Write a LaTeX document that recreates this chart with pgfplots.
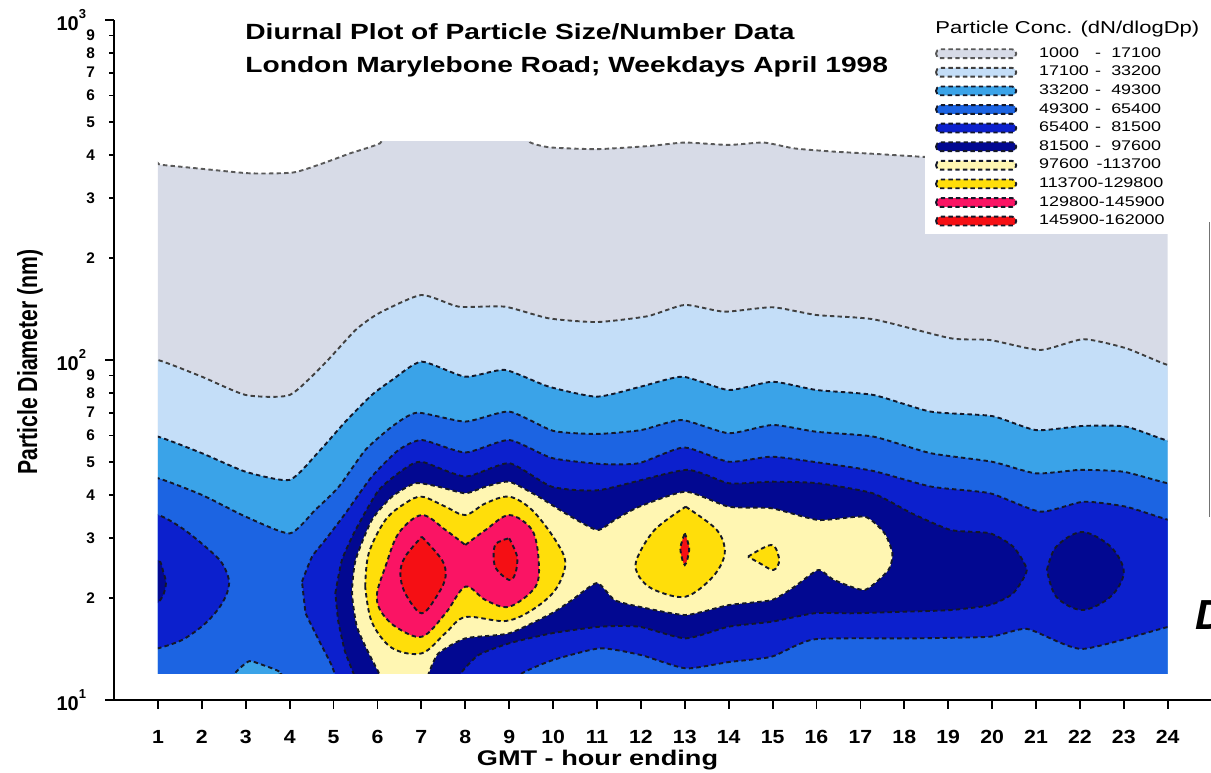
\documentclass[border=0pt]{standalone}
\usepackage{pgfplots}
\pgfplotsset{compat=1.18}
\usepackage{fontspec}
\setmainfont{Liberation Sans}[FakeStretch=1.28]
\newfontfamily\plainsans{Liberation Sans}
\newfontfamily\ticksans{Liberation Sans}[FakeStretch=1.12]
\definecolor{c1}{RGB}{215,219,231}
\definecolor{c2}{RGB}{196,222,248}
\definecolor{c3}{RGB}{58,163,232}
\definecolor{c4}{RGB}{28,100,226}
\definecolor{c5}{RGB}{12,32,205}
\definecolor{c6}{RGB}{2,8,145}
\definecolor{c7}{RGB}{255,246,178}
\definecolor{c8}{RGB}{255,222,10}
\definecolor{c9}{RGB}{250,20,100}
\definecolor{c10}{RGB}{245,15,20}
\definecolor{lc}{RGB}{20,24,40}
\newcommand\YM[1]{10\raisebox{6pt}{\fontsize{6.5}{7}\selectfont#1}}
\newcommand\LE[2]{\makebox[26pt][l]{#1}\makebox[7pt][c]{-}\makebox[28pt][r]{#2}}
\pgfplotsset{reg/.style={line width=0.95pt, dash pattern=on 2.2pt off 1.6pt, draw=lc, smooth, tension=0.35},
  isl/.style={reg, tension=0.55}}
\begin{document}
\begin{tikzpicture}
\useasboundingbox (-57.05pt,-36pt) rectangle (548.45pt,350pt);
% ---------- frame axis with ticks ----------
\begin{axis}[
  at={(0pt,0pt)}, anchor=south west, scale only axis,
  width=548.75pt, height=340pt,
  xmin=0, xmax=25, ymin=10, ymax=1000, ymode=log,
  axis lines*=left,
  axis line style={line width=1.1pt, black},
  tick align=outside,
  tick style={black, line width=0.9pt},
  major tick length=4.5pt,
  xtick={1,2,...,24},
  xticklabels={1,2,3,4,5,6,7,8,9,10,11,12,13,14,15,16,17,18,19,20,21,22,23,24},
  x tick label style={font=\ticksans\bfseries\fontsize{9.5}{10}\selectfont, anchor=north, yshift=-7pt},
  ytick={10,100,1000},
  yticklabels={\YM{1},\YM{2},\YM{3}},
  y tick label style={font=\plainsans\bfseries\fontsize{10}{11}\selectfont, anchor=east, xshift=-6pt},
  extra y ticks={20,30,40,50,60,70,80,90,200,300,400,500,600,700,800,900},
  extra y tick labels={2,3,4,5,6,7,8,9,2,3,4,5,6,7,8,9},
  extra y tick style={major tick length=2.5pt, y tick label style={font=\plainsans\bfseries\fontsize{7.7}{8}\selectfont, xshift=2.5pt}},
  yminorticks=false,
]
\end{axis}
% ---------- data axis (domain 1..24 h, 12..440 nm) ----------
\begin{axis}[
  at={(21.95pt,13.461pt)}, anchor=south west, scale only axis,
  width=504.85pt, height=265.93pt,
  xmin=1, xmax=24, ymin=12, ymax=440, ymode=log,
  hide axis, clip=true,
  legend image code/.code={\draw[#1, sharp plot, rounded corners=2pt] (0pt,-2.2pt) rectangle (40pt,2.2pt); \path[draw=none, fill=none] (0pt,0pt) -- (51.5pt,0pt);},
  legend cell align=left,
  legend style={at={(axis description cs:0.7594,1.1903)}, anchor=north west,
    draw=none, fill=white, inner xsep=5pt, inner ysep=2pt, row sep=0pt,
    font=\fontsize{7}{8}\selectfont,
    nodes={inner xsep=0pt, inner ysep=1.2pt, text height=5.3pt, text depth=1.6pt}},
]
% level 1
\addplot[reg, fill=c1, draw=black!65] coordinates {(0.5,10.5)(0.5,375)(1.05,375)(2,365)(3.1,354)(4.08,356)(4.76,379)(5.37,405)(6.06,434)(6.4,480)(9.2,480)(9.47,437)(9.93,422)(11,417)(12.2,426)(13,436)(14,429)(14.8,436)(15.5,419)(16.4,410)(17.3,404)(18.4,396)(20,386)(22,380)(24.5,375)(24.5,10.5)} -- cycle;
\addlegendentry{\LE{1000}{17100}}
% level 2
\addplot[reg, fill=c2, draw=black!75] coordinates {(0.5,10.5)(0.5,100)(1,100)(2,89.3)(3,78.9)(4,78.9)(4.8,97.8)(5.5,122.5)(6.03,137.2)(7,155.3)(7.85,143.5)(8.9,143.5)(9.9,132.6)(11,129.3)(12.15,134.5)(13,145.2)(13.9,138.7)(15,142.9)(16,135.6)(17.3,131.7)(19.06,115.8)(19.95,114.5)(21.1,107)(22.08,115.1)(23.05,108.3)(24,96.7)(24.5,96.7)(24.5,10.5)} -- cycle;
\addlegendentry{\LE{17100}{33200}}
% level 3
\addplot[reg, fill=c3] coordinates {(0.5,10.5)(0.5,59.5)(1,59.5)(2,53.2)(3,46.9)(4,44.4)(4.66,53.7)(5.27,65.9)(5.87,78.9)(6.33,87.3)(7,98.9)(8,89.3)(8.9,93.5)(9.9,83.5)(11,78)(12,83.5)(12.95,89.3)(14,81.6)(15,86.3)(16,81.6)(17.3,78.9)(18.6,70.5)(20,68.4)(21,62.2)(22.08,64)(23.05,63.7)(24,57.9)(24.5,57.9)(24.5,10.5)} -- cycle;
\addlegendentry{\LE{33200}{49300}}
% level 4
\addplot[reg, fill=c4] coordinates {(0.5,10.5)(0.5,44.9)(1,44.9)(2,40.1)(3,34.6)(4,30.9)(4.58,36.2)(5.12,42.4)(5.72,54.3)(6.33,63.7)(6.9,70)(8,65.9)(9,70.5)(10,61.9)(11,60.6)(12,62.2)(12.93,66.6)(14,60.9)(15,64.4)(16,61.5)(17.3,59.5)(18.6,53.2)(20,50.2)(21,46.4)(22,47.5)(23,46.9)(24,43.4)(24.5,43.4)(24.5,10.5)(3.95,10.5)(3.82,12)(3.29,12.8)(3.07,13.0)(2.76,12)(2.65,10.5)} -- cycle;
\addlegendentry{\LE{49300}{65400}}
% level 5
\addplot[reg, fill=c5] coordinates {(4.28,22.28)(4.51,26.4)(4.81,29.56)(5.27,35.4)(5.87,45.4)(6.48,54.35)(7.01,58.17)(8,53.45)(9,58.17)(9.97,51.5)(11.1,49.44)(11.95,49.7)(12.98,55.3)(14,50.2)(14.98,51.95)(16.04,49.95)(17.28,47.2)(18.62,42.4)(19.95,40.55)(21.1,35.8)(22.08,38.3)(23.05,37.03)(24.03,33.84)(24.5,33.84)(24.5,16.43)(24.03,16.43)(22.05,14.13)(20.8,16.18)(19.95,15.35)(18.17,15.18)(15.95,15.08)(14.98,13.41)(14,12.93)(13.02,12.39)(12,13.56)(11.07,14.19)(10,13.11)(9.3,12)(8.95,10.8)(8.9,10.3)(5.2,10.3)(5.15,10.8)(4.95,12.68)(4.66,15.02)(4.36,17.99)} -- cycle;
\addlegendentry{\LE{65400}{81500}}
\addplot[isl, fill=c5, forget plot] coordinates {(0.5,14.19)(0.5,35)(1,35)(1.55,32)(2.08,28.24)(2.46,25.24)(2.62,22.04)(2.46,19.25)(2.08,16.81)(1.55,15.02)(1,14.19)} -- cycle;
% level 6
\addplot[reg, fill=c6] coordinates {(5.04,20.6)(5.19,25.8)(5.5,31.62)(6.03,41.46)(6.63,48.03)(7.01,50.2)(8,45.4)(9,49.7)(9.97,42.4)(11.07,41.46)(13.02,47.5)(14,43.4)(14.98,43.86)(16.04,43.4)(17.28,40.55)(18.17,35.4)(19.06,31.62)(19.95,30.93)(20.48,28.24)(20.79,24.12)(20.48,20.6)(19.95,19.02)(19.06,18.39)(18,18.18)(16.84,17.99)(15.95,17.99)(14.98,16.99)(14,16.43)(13.02,15.18)(11.96,16.43)(11.07,16.43)(9.97,15.71)(9,14.68)(8.3,13.56)(7.9,12)(7.72,10.8)(7.7,10.3)(5.6,10.3)(5.58,10.8)(5.45,12)(5.25,14.03)(5.1,17.19)} -- cycle;
\addlegendentry{\LE{81500}{97600}}
\addplot[isl, fill=c6, forget plot] coordinates {(21.25,24.12)(21.46,28.24)(22.05,31.2)(22.7,28.24)(23.0,23.79)(22.7,20.13)(22.05,18.39)(21.46,20.13)(21.25,24.12)} -- cycle;
\addplot[isl, fill=c6, forget plot] coordinates {(0.5,19.28)(0.5,25.8)(1,25.8)(1.12,23.79)(1.18,22.08)(1.12,20.37)(1,19.28)} -- cycle;
% level 7
\addplot[reg, fill=c7] coordinates {(6.15,10.3)(6.13,10.8)(6.03,12)(5.8,13.72)(5.53,16.43)(5.42,20.6)(5.5,25.8)(5.87,33.84)(6.33,39.63)(6.86,43.4)(7.39,42.4)(8,40.55)(8.46,42.4)(9,43.86)(9.67,39.63)(10.28,35.4)(11,31.62)(11.4,33.84)(11.96,37.03)(13.02,40.99)(14,37.03)(14.98,36.63)(16.04,33.84)(17.1,34.6)(17.55,30.93)(17.73,27.01)(17.64,24.12)(17.1,21.07)(16.4,22.54)(16.04,24.12)(15.5,21.54)(14.98,19.68)(14,19.02)(13.02,17.78)(11.96,18.81)(11.4,19.68)(11,22.08)(10.43,19.68)(9.97,17.99)(9,15.71)(8,15.18)(7.39,13.72)(7.17,12)(7.08,10.8)(7.06,10.3)} -- cycle;
\addlegendentry{\makebox[26pt][l]{97600}\makebox[35pt][r]{-113700}}
% level 8
\addplot[isl, fill=c8] coordinates {(5.72,21.54)(5.8,27.01)(6.18,33.84)(6.63,37.89)(7.01,39.63)(7.55,37.03)(8,34.99)(8.46,37.89)(9,39.63)(9.52,36.21)(10.05,29.56)(10.28,25.24)(10.05,21.07)(9.52,18.39)(8.91,17.07)(8,17.54)(7.55,15.74)(7.01,13.72)(6.33,14.22)(5.87,16.96)(5.72,21.54)} -- cycle;
\addlegendentry{113700-129800}
\addplot[isl, fill=c8, forget plot] coordinates {(13.02,37.03)(13.73,31.62)(13.91,27.01)(13.64,23.05)(13.02,20.13)(12.31,21.07)(11.96,23.05)(11.9,25.8)(12.31,31.62)(13.02,37.03)} -- cycle;
\addplot[isl, fill=c8, forget plot] coordinates {(14.44,26.4)(14.98,28.57)(15.15,25.8)(15.02,24.12)(14.71,25.24)(14.44,26.4)} -- cycle;
% level 9
\addplot[isl, fill=c9] coordinates {(8,28.57)(8.46,31.62)(9,34.99)(9.52,31.62)(9.67,25.8)(9.6,21.54)(9,18.81)(8.46,19.68)(8,21.54)(7.55,17.99)(7.01,15.35)(6.41,16.43)(6.06,18.39)(5.99,20.6)(6.18,24.66)(6.48,30.93)(7.01,34.99)(7.55,31.62)(8,28.57)} -- cycle;
\addlegendentry{129800-145900}
% level 10
\addplot[isl, fill=c10] coordinates {(7.01,30.22)(7.47,25.8)(7.55,23.05)(7.39,20.6)(7.01,17.99)(6.63,20.6)(6.52,23.58)(6.63,26.4)(7.01,30.22)} -- cycle;
\addlegendentry{145900-162000}
\addplot[isl, fill=c10, forget plot] coordinates {(9,29.89)(9.18,26.4)(9.14,23.58)(9,22.54)(8.68,24.66)(8.68,28.57)(9,29.89)} -- cycle;
\addplot[isl, fill=c10, forget plot] coordinates {(13,30.93)(13.1,27.81)(13,24.95)(12.9,27.81)(13,30.93)} -- cycle;
\end{axis}
% ---------- texts ----------
\node[anchor=west, inner sep=0pt, font=\bfseries\fontsize{11}{13}\selectfont] at (65.45pt,334pt) {Diurnal Plot of Particle Size/Number Data};
\node[anchor=west, inner sep=0pt, font=\bfseries\fontsize{11}{13}\selectfont] at (65.45pt,316.5pt) {London Marylebone Road; Weekdays April 1998};
\node[anchor=west, inner sep=0pt, font=\fontsize{8.6}{9}\selectfont] at (410.45pt,335.5pt) {Particle Conc. (dN/dlogDp)};
\node[font=\bfseries\fontsize{10.6}{12}\selectfont] at (241.7pt,-30pt) {GMT - hour ending};
\node[rotate=90] at (-42.05pt,169pt) {\scalebox{1}[1.3]{\plainsans\bfseries\fontsize{10.6}{12}\selectfont Particle Diameter (nm)}};
\node[anchor=west, inner sep=0pt, font=\plainsans\bfseries\itshape\fontsize{21}{24}\selectfont] at (540.45pt,42.5pt) {D};
\draw[black!55, line width=0.7pt] (547.7pt,91.5pt) -- (547.7pt,239pt);
\end{tikzpicture}
\end{document}
